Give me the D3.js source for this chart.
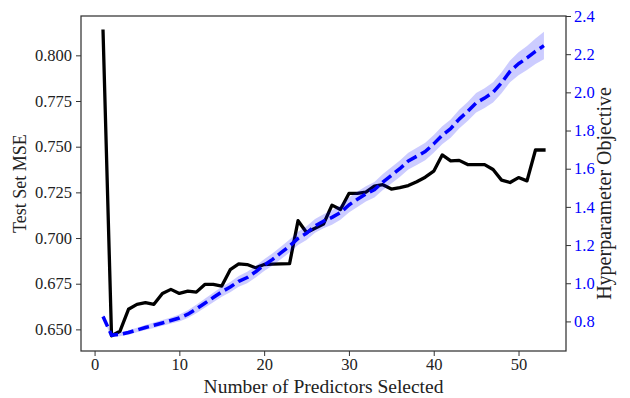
<!DOCTYPE html>
<html>
<head>
<meta charset="utf-8">
<script src="https://cdn.jsdelivr.net/npm/d3@7/dist/d3.min.js"></script>
<style>
  body { margin: 0; background: #fff; }
  svg { display: block; }
</style>
</head>
<body>
<svg id="chart" width="630" height="398" font-family="Liberation Serif, Times New Roman, serif"></svg>
<script>
// Number of predictors kept by the selection procedure
const predictors = [1, 2, 3, 4, 5, 6, 7, 8, 9, 10, 11, 12, 13, 14, 15, 16, 17, 18, 19, 20,
  21, 22, 23, 24, 25, 26, 27, 28, 29, 30, 31, 32, 33, 34, 35, 36, 37, 38, 39, 40,
  41, 42, 43, 44, 45, 46, 47, 48, 49, 50, 51, 52, 53];

// Test-set mean squared error (left axis)
const testMSE = [0.8132, 0.6465, 0.6490, 0.6610, 0.6637, 0.6646, 0.6637, 0.6697, 0.6719, 0.6697,
  0.6709, 0.6704, 0.6746, 0.6746, 0.6737, 0.6827, 0.6858, 0.6855, 0.6837, 0.6855,
  0.6857, 0.6858, 0.6860, 0.7095, 0.7030, 0.7054, 0.7077, 0.7180, 0.7156, 0.7244,
  0.7244, 0.7251, 0.7284, 0.7292, 0.7268, 0.7276, 0.7287, 0.7308, 0.7333, 0.7366,
  0.7455, 0.7422, 0.7425, 0.7402, 0.7402, 0.7402, 0.7375, 0.7317, 0.7304, 0.7331,
  0.7313, 0.7482, 0.7482];

// Hyperparameter objective mean (right axis) and its spread
const objective = [0.826, 0.728, 0.732, 0.742, 0.755, 0.768, 0.780, 0.792, 0.805, 0.818,
  0.838, 0.865, 0.895, 0.925, 0.955, 0.980, 1.010, 1.030, 1.060, 1.095,
  1.125, 1.160, 1.195, 1.235, 1.262, 1.300, 1.325, 1.345, 1.370, 1.410,
  1.440, 1.468, 1.490, 1.530, 1.565, 1.600, 1.640, 1.665, 1.690, 1.730,
  1.775, 1.810, 1.860, 1.900, 1.945, 1.970, 2.000, 2.050, 2.110, 2.150,
  2.180, 2.215, 2.245];
const objectiveSpread = [0.012, 0.010, 0.010, 0.012, 0.012, 0.013, 0.014, 0.015, 0.016, 0.018,
  0.020, 0.022, 0.024, 0.025, 0.026, 0.027, 0.028, 0.030, 0.030, 0.031,
  0.032, 0.033, 0.034, 0.035, 0.036, 0.036, 0.037, 0.038, 0.038, 0.039,
  0.040, 0.040, 0.041, 0.042, 0.042, 0.043, 0.044, 0.045, 0.046, 0.046,
  0.047, 0.048, 0.049, 0.050, 0.051, 0.052, 0.053, 0.055, 0.057, 0.060,
  0.063, 0.067, 0.072];

const xTicks = [0, 10, 20, 30, 40, 50];
const mseTicks = [0.650, 0.675, 0.700, 0.725, 0.750, 0.775, 0.800];
const objTicks = [0.8, 1.0, 1.2, 1.4, 1.6, 1.8, 2.0, 2.2, 2.4];

const FONT = "Liberation Serif, Times New Roman, serif";
const margin = { top: 16, right: 64, bottom: 47, left: 81 };
const W = 630, H = 398;
const svg = d3.select("#chart");

const pad = (lo, hi) => { const d = (hi - lo) * 0.05; return [lo - d, hi + d]; };

const x = d3.scaleLinear()
  .domain(pad(d3.min(predictors), d3.max(predictors)))
  .range([margin.left, W - margin.right]);
const yL = d3.scaleLinear()
  .domain(pad(d3.min(testMSE), d3.max(testMSE)))
  .range([H - margin.bottom, margin.top]);
const yR = d3.scaleLinear()
  .domain([0.645, 2.4])
  .range([H - margin.bottom, margin.top]);

const rows = predictors.map((p, i) => ({
  p, mse: testMSE[i], obj: objective[i], sd: objectiveSpread[i]
}));

svg.append("clipPath").attr("id", "clip")
  .append("rect")
  .attr("x", margin.left).attr("y", margin.top)
  .attr("width", W - margin.left - margin.right)
  .attr("height", H - margin.top - margin.bottom);
const inner = svg.append("g").attr("clip-path", "url(#clip)");

// Test MSE curve
inner.append("path")
  .datum(rows)
  .attr("fill", "none")
  .attr("stroke", "#000")
  .attr("stroke-width", 3.3)
  .attr("stroke-linejoin", "round")
  .attr("stroke-linecap", "square")
  .attr("d", d3.line().x(d => x(d.p)).y(d => yL(d.mse)));

// Objective band and dashed mean
inner.append("path")
  .datum(rows)
  .attr("fill", "#0000ff")
  .attr("fill-opacity", 0.2)
  .attr("stroke", "none")
  .attr("d", d3.area().x(d => x(d.p)).y0(d => yR(d.obj - d.sd)).y1(d => yR(d.obj + d.sd)));

inner.append("path")
  .datum(rows)
  .attr("fill", "none")
  .attr("stroke", "#0000ff")
  .attr("stroke-width", 3.5)
  .attr("stroke-dasharray", "11,5")
  .attr("stroke-linejoin", "round")
  .attr("d", d3.line().x(d => x(d.p)).y(d => yR(d.obj)));

// Axes
const gx = svg.append("g")
  .attr("transform", `translate(0,${H - margin.bottom})`)
  .call(d3.axisBottom(x).tickValues(xTicks).tickFormat(d3.format("d")).tickSize(5).tickPadding(2));
const gl = svg.append("g")
  .attr("transform", `translate(${margin.left},0)`)
  .call(d3.axisLeft(yL).tickValues(mseTicks).tickFormat(d3.format(".3f")).tickSize(5).tickPadding(4));
const gr = svg.append("g")
  .attr("transform", `translate(${W - margin.right},0)`)
  .call(d3.axisRight(yR).tickValues(objTicks).tickFormat(d3.format(".1f")).tickSize(5).tickPadding(3));

[gx, gl, gr].forEach(g => {
  g.attr("font-family", FONT).attr("font-size", 16.5);
  g.select(".domain").remove();
  g.selectAll(".tick line").attr("stroke", "#333").attr("stroke-width", 1);
  g.selectAll(".tick text").attr("fill", "#222");
});
gr.selectAll(".tick text").attr("fill", "#0000ff");

// Frame
svg.append("rect")
  .attr("x", margin.left).attr("y", margin.top)
  .attr("width", W - margin.left - margin.right)
  .attr("height", H - margin.top - margin.bottom)
  .attr("fill", "none").attr("stroke", "#333").attr("stroke-width", 1.25);

// Axis titles
svg.append("text")
  .attr("x", (margin.left + W - margin.right) / 2)
  .attr("y", 393)
  .attr("text-anchor", "middle")
  .attr("font-family", FONT)
  .attr("font-size", 19.5).attr("fill", "#222")
  .text("Number of Predictors Selected");

svg.append("text")
  .attr("transform", `translate(26,${(margin.top + H - margin.bottom) / 2}) rotate(-90)`)
  .attr("text-anchor", "middle")
  .attr("font-family", FONT)
  .attr("font-size", 18).attr("fill", "#222")
  .text("Test Set MSE");

svg.append("text")
  .attr("transform", `translate(611,${(margin.top + H - margin.bottom) / 2 + 10}) rotate(-90)`)
  .attr("text-anchor", "middle")
  .attr("font-family", FONT)
  .attr("font-size", 20).attr("fill", "#222")
  .text("Hyperparameter Objective");
</script>
</body>
</html>
